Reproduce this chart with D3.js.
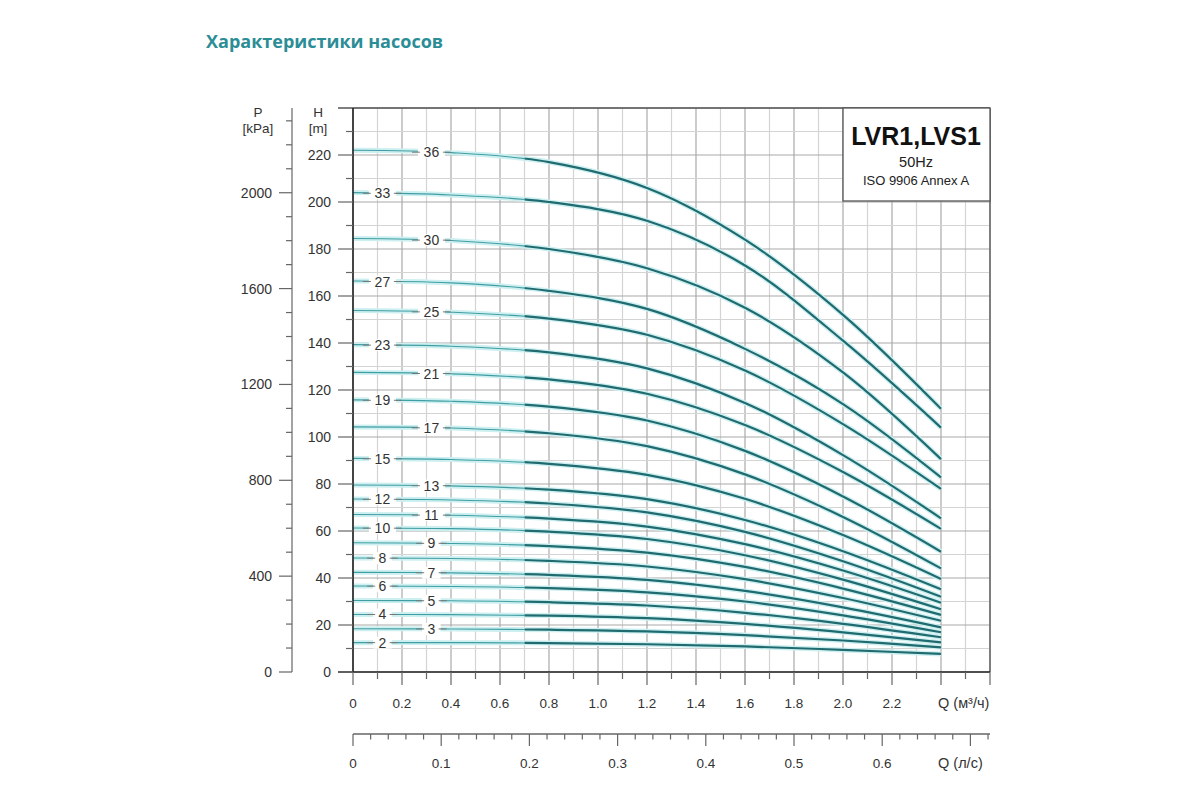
<!DOCTYPE html>
<html>
<head>
<meta charset="utf-8">
<script src="https://cdn.jsdelivr.net/npm/d3@7"></script>
<style>
  body { margin: 0; background: #fff; }
  text { font-family: "Liberation Sans", Arial, sans-serif; fill: #333; }
</style>
</head>
<body>
<div id="container"></div>
<script>
// flow points (m3/h) where each head curve was read
const qPoints = [0, 0.4, 0.8, 1.2, 1.6, 2.0, 2.4];
// number of stages for each curve
const stages = [36, 33, 30, 27, 25, 23, 21, 19, 17, 15, 13, 12, 11, 10, 9, 8, 7, 6, 5, 4, 3, 2];
// head H (m) at qPoints, one row per curve
const heads = [
  [222, 221, 217, 206, 184, 152, 112],
  [204, 203, 200, 192, 173, 141, 104],
  [184.5, 183.6, 180, 171.8, 155, 127.5, 90.6],
  [166.4, 165.6, 162.2, 154.5, 137.5, 114, 82.8],
  [153.8, 153.1, 150.4, 143.5, 128.3, 105.5, 77.9],
  [139.3, 138.6, 136, 129.2, 114.5, 92.3, 65.4],
  [127.5, 126.9, 124.5, 118.4, 105.1, 85.1, 60.9],
  [115.8, 115.2, 112.9, 107, 94.1, 74.7, 51.2],
  [104.3, 103.8, 101.6, 96.1, 84.1, 66, 44.1],
  [90.9, 90.4, 88.6, 83.9, 73.7, 58.3, 39.6],
  [79.6, 79.2, 77.6, 73.6, 64.7, 51.4, 35.2],
  [73.6, 73.2, 71.7, 67.9, 59.6, 47.1, 32],
  [67, 66.7, 65.3, 61.9, 54.4, 43.2, 29.5],
  [61.3, 61, 59.7, 56.6, 49.7, 39.3, 26.7],
  [55, 54.7, 53.6, 50.8, 44.7, 35.5, 24.3],
  [48.5, 48.3, 47.3, 44.9, 39.5, 31.5, 21.8],
  [42.4, 42.2, 41.3, 39.2, 34.5, 27.5, 19],
  [36.6, 36.4, 35.7, 33.9, 30, 24.1, 16.9],
  [30.4, 30.3, 29.7, 28.3, 25.2, 20.5, 14.8],
  [24.5, 24.4, 24, 22.9, 20.5, 16.9, 12.6],
  [18.4, 18.3, 18, 17.3, 15.7, 13.4, 10.5],
  [12.5, 12.5, 12.3, 11.8, 10.9, 9.4, 7.7]
];
const qStart = 0.7; // start of the working range (thick part)

// tick labels
const qLabels = [0, 0.2, 0.4, 0.6, 0.8, 1.0, 1.2, 1.4, 1.6, 1.8, 2.0, 2.2];
const lsLabels = [0, 0.1, 0.2, 0.3, 0.4, 0.5, 0.6];
const hLabels = [0, 20, 40, 60, 80, 100, 120, 140, 160, 180, 200, 220];
const pLabels = [0, 400, 800, 1200, 1600, 2000];

let w = 1200;
let h = 800;

let viz = d3.select("#container").append("svg")
    .attr("width", w)
    .attr("height", h)
    .style("background-color", "white")
;

let x = d3.scaleLinear().domain([0, 2.6]).range([353, 990]);
let y = d3.scaleLinear().domain([0, 240]).range([672, 108]);
let p = d3.scaleLinear().domain([0, 240 * 9.80665]).range([672, 108]);
let xls = d3.scaleLinear().domain([0, 2.6 / 3.6]).range([353, 990]);

let fmt = d => d === 0 ? "0" : d.toFixed(1);

// title
viz.append("text")
    .attr("x", 206).attr("y", 48)
    .style("font-family", "'Open Sans', sans-serif")
    .style("font-weight", "bold")
    .style("font-size", "18px")
    .style("fill", "#2b8d96")
    .text("Характеристики насосов");

// grid
let grid = viz.append("g");
d3.range(0, 27).forEach(function(i){
  let q = i / 10;
  grid.append("line")
    .attr("x1", x(q)).attr("x2", x(q))
    .attr("y1", y(240)).attr("y2", y(0))
    .attr("stroke", i % 2 === 0 ? "#a9a9a9" : "#d4d4d4")
    .attr("stroke-width", 1.2);
});
d3.range(0, 25).forEach(function(i){
  let hv = i * 10;
  grid.append("line")
    .attr("x1", x(0)).attr("x2", x(2.6))
    .attr("y1", y(hv)).attr("y2", y(hv))
    .attr("stroke", i % 2 === 0 ? "#a9a9a9" : "#d4d4d4")
    .attr("stroke-width", 1.2);
});

// curves
let defs = viz.append("defs");
defs.append("clipPath").attr("id", "thinClip").append("rect")
    .attr("x", 0).attr("y", 0).attr("width", x(qStart)).attr("height", h);
defs.append("clipPath").attr("id", "thickClip").append("rect")
    .attr("x", x(qStart)).attr("y", 0).attr("width", w).attr("height", h);

let line = d3.line()
    .x((d, i) => x(qPoints[i]))
    .y(d => y(d))
    .curve(d3.curveCatmullRom.alpha(0.5));

let curves = viz.append("g");
curves.selectAll(".halo").data(heads).enter()
  .append("path")
    .attr("d", line)
    .attr("fill", "none")
    .attr("stroke", "#cdeff0")
    .attr("stroke-width", 5);
curves.selectAll(".thin").data(heads).enter()
  .append("path")
    .attr("d", line)
    .attr("clip-path", "url(#thinClip)")
    .attr("fill", "none")
    .attr("stroke", "#3f9ea4")
    .attr("stroke-width", 1.1);
curves.selectAll(".thick").data(heads).enter()
  .append("path")
    .attr("d", line)
    .attr("clip-path", "url(#thickClip)")
    .attr("fill", "none")
    .attr("stroke", "#1f6b70")
    .attr("stroke-width", 2.2);

// stage labels, alternating between two positions
let labels = viz.append("g");
stages.forEach(function(s, i){
  let q = i % 2 === 0 ? 0.32 : 0.12;
  let hv = heads[i][0] + (heads[i][1] - heads[i][0]) * q / 0.4;
  let lx = x(q), ly = y(hv);
  let tw = String(s).length * 8.5;
  labels.append("rect")
    .attr("x", lx - tw / 2 - 5).attr("y", ly - 6)
    .attr("width", tw + 10).attr("height", 12)
    .attr("fill", "white");
  labels.append("line")
    .attr("x1", lx - tw / 2 - 11).attr("x2", lx - tw / 2 - 3)
    .attr("y1", ly).attr("y2", ly)
    .attr("stroke", "#777").attr("stroke-width", 1);
  labels.append("line")
    .attr("x1", lx + tw / 2 + 3).attr("x2", lx + tw / 2 + 11)
    .attr("y1", ly).attr("y2", ly)
    .attr("stroke", "#777").attr("stroke-width", 1);
  labels.append("text")
    .attr("x", lx).attr("y", ly + 5)
    .attr("text-anchor", "middle")
    .style("font-size", "14px")
    .text(s);
});

// plot frame
viz.append("line").attr("x1", 338).attr("x2", x(2.6)).attr("y1", y(240)).attr("y2", y(240))
    .attr("stroke", "#555").attr("stroke-width", 1.3);
viz.append("line").attr("x1", x(2.6)).attr("x2", x(2.6)).attr("y1", y(240)).attr("y2", y(0))
    .attr("stroke", "#555").attr("stroke-width", 1.3);
viz.append("line").attr("x1", x(0)).attr("x2", x(0)).attr("y1", y(240)).attr("y2", y(0))
    .attr("stroke", "#222").attr("stroke-width", 1.6);
viz.append("line").attr("x1", 338).attr("x2", x(2.6)).attr("y1", y(0)).attr("y2", y(0))
    .attr("stroke", "#222").attr("stroke-width", 1.6);

// H axis ticks
d3.range(0, 24).forEach(function(i){
  let hv = i * 10;
  viz.append("line")
    .attr("x1", i % 2 === 0 ? 338 : 346).attr("x2", x(0))
    .attr("y1", y(hv)).attr("y2", y(hv))
    .attr("stroke", "#666").attr("stroke-width", 1.2);
});
viz.append("g").selectAll("text").data(hLabels).enter()
  .append("text")
    .attr("x", 331).attr("y", d => y(d) + 5)
    .attr("text-anchor", "end")
    .style("font-size", "14px")
    .text(d => d);
viz.append("text").attr("x", 318).attr("y", 117).attr("text-anchor", "middle")
    .style("font-size", "13.5px").text("H");
viz.append("text").attr("x", 318).attr("y", 133).attr("text-anchor", "middle")
    .style("font-size", "13.5px").text("[m]");

// P axis
viz.append("line").attr("x1", 292).attr("x2", 292).attr("y1", 108).attr("y2", p(0))
    .attr("stroke", "#666").attr("stroke-width", 1.2);
d3.range(0, 24).forEach(function(i){
  let pv = i * 100;
  viz.append("line")
    .attr("x1", i % 4 === 0 ? 279 : 286).attr("x2", 292)
    .attr("y1", p(pv)).attr("y2", p(pv))
    .attr("stroke", "#666").attr("stroke-width", 1.2);
});
viz.append("g").selectAll("text").data(pLabels).enter()
  .append("text")
    .attr("x", 272).attr("y", d => p(d) + 5)
    .attr("text-anchor", "end")
    .style("font-size", "14px")
    .text(d => d);
viz.append("text").attr("x", 258).attr("y", 117).attr("text-anchor", "middle")
    .style("font-size", "13.5px").text("P");
viz.append("text").attr("x", 258).attr("y", 133).attr("text-anchor", "middle")
    .style("font-size", "13.5px").text("[kPa]");

// Q m3/h axis ticks below plot
d3.range(0, 27).forEach(function(i){
  viz.append("line")
    .attr("x1", x(i / 10)).attr("x2", x(i / 10))
    .attr("y1", y(0)).attr("y2", i % 2 === 0 ? 685 : 679)
    .attr("stroke", "#666").attr("stroke-width", 1.2);
});
viz.append("g").selectAll("text").data(qLabels).enter()
  .append("text")
    .attr("x", d => x(d)).attr("y", 708)
    .attr("text-anchor", "middle")
    .style("font-size", "13.5px")
    .text(fmt);
viz.append("text").attr("x", 938).attr("y", 708)
    .style("font-size", "14.5px").text("Q (м³/ч)");

// Q l/s axis
viz.append("line").attr("x1", xls(0)).attr("x2", x(2.6)).attr("y1", 734).attr("y2", 734)
    .attr("stroke", "#666").attr("stroke-width", 1.3);
d3.range(0, 37).forEach(function(i){
  let v = i * 0.02;
  if (xls(v) > x(2.6) + 0.5) return;
  viz.append("line")
    .attr("x1", xls(v)).attr("x2", xls(v))
    .attr("y1", 734).attr("y2", i % 5 === 0 ? 746 : 739.5)
    .attr("stroke", "#666").attr("stroke-width", 1.2);
});
viz.append("g").selectAll("text").data(lsLabels).enter()
  .append("text")
    .attr("x", d => xls(d)).attr("y", 768)
    .attr("text-anchor", "middle")
    .style("font-size", "13.5px")
    .text(fmt);
viz.append("text").attr("x", 938).attr("y", 768)
    .style("font-size", "14.5px").text("Q (л/с)");

// model box
viz.append("rect")
    .attr("x", 843).attr("y", 108).attr("width", 147).attr("height", 93)
    .attr("fill", "white").attr("stroke", "#555").attr("stroke-width", 1.3);
viz.append("text").attr("x", 916).attr("y", 145).attr("text-anchor", "middle")
    .style("font-size", "25px").style("font-weight", "bold").style("fill", "#111")
    .text("LVR1,LVS1");
viz.append("text").attr("x", 916).attr("y", 167).attr("text-anchor", "middle")
    .style("font-size", "14.5px").style("fill", "#222")
    .text("50Hz");
viz.append("text").attr("x", 916).attr("y", 185).attr("text-anchor", "middle")
    .style("font-size", "13px").style("fill", "#222")
    .text("ISO 9906 Annex A");
</script>
</body>
</html>
